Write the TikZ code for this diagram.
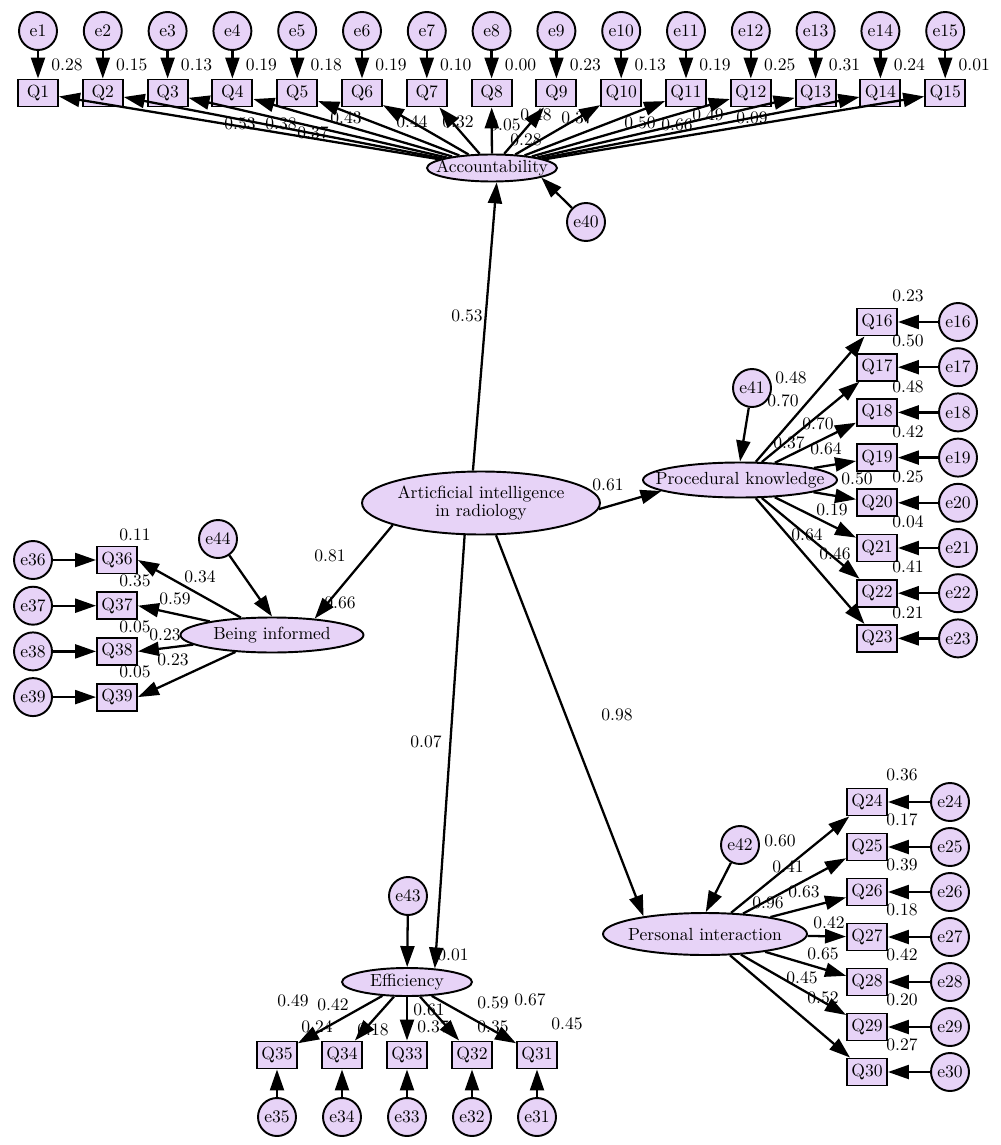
\documentclass[tikz,border=0pt]{standalone}
\usetikzlibrary{arrows.meta,shapes.geometric}
\definecolor{lav}{RGB}{231,211,247}
\tikzset{
  obs/.style={draw,line width=1.1pt,fill=lav,minimum width=0.8cm,minimum height=0.54cm,inner sep=1pt},
  err/.style={draw,line width=1.1pt,circle,fill=lav,minimum size=0.76cm,inner sep=0pt},
  lat/.style={draw,line width=1.1pt,ellipse,fill=lav,inner sep=-1cm,align=center},
  arr/.style={line width=1.3pt,-{Triangle[length=0.42cm,width=0.28cm]}},
  coef/.style={inner sep=0pt}
}

\begin{document}
\begin{tikzpicture}[x=0.02cm, y=-0.02cm]
    \useasboundingbox (0,0) rectangle (1000,1145);
    % latent variables
    \node[lat, minimum width=4.76cm, minimum height=1.26cm] (ai) at (481,503)
    {Articficial intelligence\\[-2pt] in radiology};
    \node[lat, minimum width=2.6cm, minimum height=0.54cm] (acc) at (492,168) {Accountability};
    \node[lat, minimum width=3.88cm, minimum height=0.7cm] (pk) at (740,480) {Procedural knowledge};
    \node[lat, minimum width=3.66cm, minimum height=0.7cm] (bi) at (272,635) {Being informed};
    \node[lat, minimum width=4.08cm, minimum height=0.84cm] (pi) at (705,934) {Personal interaction};
    \node[lat, minimum width=2.6cm, minimum height=0.56cm] (eff) at (407,982) {Efficiency};
    % disturbances
    \node[err] (e40) at (586,222) {e40};
    \node[err] (e41) at (752,388) {e41};
    \node[err] (e44) at (218,539) {e44};
    \node[err] (e42) at (740,845) {e42};
    \node[err] (e43) at (408,896) {e43};
    % accountability items
    \foreach \i/\v in {1/0.28,2/0.15,3/0.13,4/0.19,5/0.18,6/0.19,7/0.10,8/0.00,
                       9/0.23,10/0.13,11/0.19,12/0.25,13/0.31,14/0.24,15/0.01} {
      \node[err] (e\i) at ({38+64.8*(\i-1)},31) {e\i};
      \node[obs] (q\i) at ({38+64.8*(\i-1)},93) {Q\i};
      \node[coef] (r\i) at ({67+64.8*(\i-1)},65) {\v};
    }
    % procedural knowledge items
    \foreach \i/\v [count=\k from 0] in {16/0.23,17/0.50,18/0.48,19/0.42,20/0.25,21/0.04,22/0.41,23/0.21} {
      \node[obs] (q\i) at (877,{322+45.2*\k}) {Q\i};
      \node[err] (e\i) at (958,{322+45.2*\k}) {e\i};
      \node[coef] (r\i) at (908,{296+45.2*\k}) {\v};
    }
    % personal interaction items
    \foreach \i/\v [count=\k from 0] in {24/0.36,25/0.17,26/0.39,27/0.18,28/0.42,29/0.20,30/0.27} {
      \node[obs] (q\i) at (867,{802+45*\k}) {Q\i};
      \node[err] (e\i) at (950,{802+45*\k}) {e\i};
      \node[coef] (r\i) at (902,{775+45*\k}) {\v};
    }
    % efficiency items
    \foreach \i [count=\k from 0] in {35,34,33,32,31} {
      \node[obs] (q\i) at ({277+65*\k},1055) {Q\i};
      \node[err] (e\i) at ({277+65*\k},1117) {e\i};
    }
    % being informed items
    \foreach \i/\v [count=\k from 0] in {36/0.11,37/0.35,38/0.05,39/0.05} {
      \node[obs] (q\i) at (117,{560+45.7*\k}) {Q\i};
      \node[err] (e\i) at (33,{560+45.7*\k}) {e\i};
      \node[coef] (r\i) at (135,{535+45.7*\k}) {\v};
    }
    % loadings and squared correlations
    \foreach \x/\y/\v [count=\n] in {240/124/0.53,281/124/0.38,313/133/0.37,346/118/0.43,
        412/122/0.44,458/122/0.32,505/125/0.05,536/115/0.48,577/118/0.37,640/123/0.50,
        677/125/0.66,708/115/0.49,752/118/0.09,526/140/0.28,
        791/378/0.48,783/401/0.70,818/424/0.70,826/449/0.64,857/479/0.50,832/510/0.19,
        807/535/0.64,835/554/0.46,789/443/0.37,
        200/577/0.34,175/599/0.59,165/635/0.23,173/660/0.23,330/556/0.81,340/603/0.66,
        780/841/0.60,788/867/0.41,804/892/0.63,829/923/0.42,823/954/0.65,802/978/0.45,
        823/998/0.52,768/903/0.96,
        293/1001/0.49,333/1005/0.42,317/1027/0.24,373/1030/0.18,429/1010/0.61,433/1027/0.37,
        493/1003/0.59,493/1027/0.35,530/1000/0.67,567/1024/0.45,453/955/0.01,
        467/316/0.53,608/485/0.61,617/715/0.98,426/742/0.07}
    \node[coef] (lab\n) at (\x,\y) {\v};
    % measurement arrows
    \foreach \i in {1,...,15} {
      \draw[arr] (e\i) -- (q\i);
      \draw[arr] (acc) -- (q\i);
    }
    \foreach \i in {16,...,23} {
      \draw[arr] (e\i) -- (q\i);
      \draw[arr] (pk) -- (q\i);
    }
    \foreach \i in {24,...,30} {
      \draw[arr] (e\i) -- (q\i);
      \draw[arr] (pi) -- (q\i);
    }
    \foreach \i in {31,...,35} {
      \draw[arr] (e\i) -- (q\i);
      \draw[arr] (eff) -- (q\i);
    }
    \foreach \i in {36,...,39} {
      \draw[arr] (e\i) -- (q\i);
      \draw[arr] (bi) -- (q\i.east);
    }
    % structural arrows
    \draw[arr] (ai.104) -- (acc.-72);
    \draw[arr] (ai.-3) -- (pk.188);
    \draw[arr] (ai.194) -- (bi.21);
    \draw[arr] (ai.-65) -- (pi.164);
    \draw[arr] (ai.-117) -- (eff.26);
    % disturbance arrows
    \draw[arr] (e40) -- (acc.-11);
    \draw[arr] (e41) -- (pk.north);
    \draw[arr] (e44) -- (bi.north);
    \draw[arr] (e42) -- (pi.88);
    \draw[arr] (e43) -- (eff);
\end{tikzpicture}
\end{document}
